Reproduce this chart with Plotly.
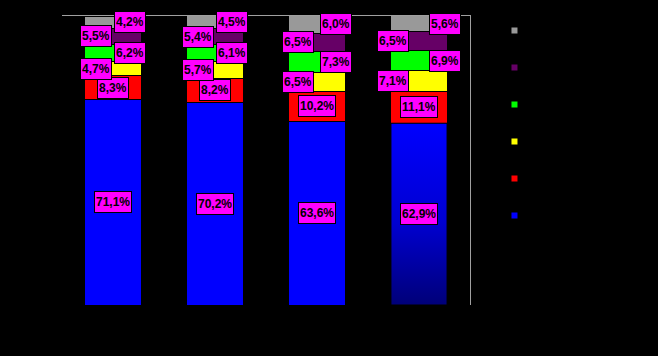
import plotly.graph_objects as go

categories = ["1", "2", "3", "4"]
series_names = ["Serie 1", "Serie 2", "Serie 3", "Serie 4", "Serie 5", "Serie 6"]
blue = [71.1, 70.2, 63.6, 62.9]
red = [8.3, 8.2, 10.2, 11.1]
yellow = [4.7, 5.7, 6.5, 7.1]
green = [6.2, 6.1, 7.3, 6.9]
purple = [5.5, 5.4, 6.5, 6.5]
gray = [4.2, 4.5, 6.0, 5.6]

series = [blue, red, yellow, green, purple, gray]
colors = ["#0000FF", "#FF0000", "#FFFF00", "#00FF00", "#660066", "#999999"]
# label horizontal placement per series: 0 centre, -1 left, +1 right
label_side = [0, 0, -1, 1, -1, 1]
side_shift_per_bar = [17, 17, 19, 26]

xs = list(range(len(categories)))
bar_width = 0.55

fig = go.Figure()
for name, vals, col in zip(series_names, series, colors):
    fig.add_trace(go.Bar(x=xs, y=vals, name=name, marker=dict(color=col, line=dict(color="black", width=1)),
                         width=bar_width, showlegend=False))

# gradient on last bar's blue segment
i = 3
x0, x1 = xs[i] - bar_width / 2, xs[i] + bar_width / 2
fig.add_trace(go.Scatter(x=[x0, x1, x1, x0, x0], y=[0, 0, blue[i], blue[i], 0], mode="lines",
                         fill="toself", line=dict(color="black", width=1),
                         fillgradient=dict(type="vertical", colorscale=[[0, "#000078"], [0.45, "#0000D0"], [1, "#0000FF"]]),
                         showlegend=False, hoverinfo="skip"))

# legend markers (top item = last series)
for name, col in reversed(list(zip(series_names, colors))):
    fig.add_trace(go.Scatter(x=[None], y=[None], mode="markers", name=name, legendgroup=name,
                             marker=dict(symbol="square", size=6, color=col), showlegend=True))

annotations = []
for b in range(len(categories)):
    base = 0
    for s, vals in enumerate(series):
        v = vals[b]
        annotations.append(dict(x=xs[b], y=base + v / 2, xref="x", yref="y",
                                text=f"{v:.1f}%".replace(".", ","), showarrow=False,
                                xshift=label_side[s] * side_shift_per_bar[b], height=18,
                                font=dict(family="Liberation Sans", size=12, color="black", weight="bold"),
                                bgcolor="#FF00FF", bordercolor="black", borderwidth=1, borderpad=1))
        base += v

fig.update_layout(
    width=658, height=356,
    margin=dict(l=62, r=188, t=16, b=51),
    paper_bgcolor="black", plot_bgcolor="black",
    barmode="stack", bargap=0.45,
    annotations=annotations,
    legend=dict(x=1.06, y=1.0, xanchor="left", yanchor="top", traceorder="grouped",
                font=dict(color="black", size=12), bgcolor="black", tracegroupgap=18),
    xaxis=dict(range=[-0.5, 3.5], side="top", showline=True, linecolor="#A0A0A0", linewidth=1,
               showgrid=False, zeroline=False, showticklabels=False, ticks=""),
    yaxis=dict(range=[0, 100], side="right", showline=True, linecolor="#A0A0A0", linewidth=1,
               showgrid=False, zeroline=False, showticklabels=False, ticks=""),
)

fig.write_html("out.html", config={"displayModeBar": False},
               post_script="document.body.style.margin='0';document.body.style.background='black';")
